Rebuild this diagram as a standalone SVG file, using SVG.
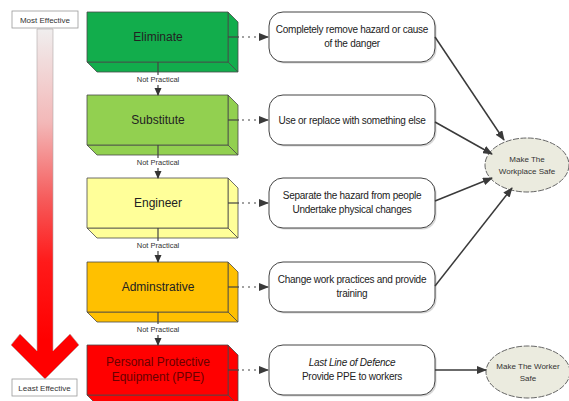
<svg xmlns="http://www.w3.org/2000/svg" width="569" height="401" viewBox="0 0 569 401">
<style>
text{font-family:"Liberation Sans",Arial,sans-serif;fill:#222}
.lbl{font-size:12px;text-anchor:middle}
.desc{font-size:10px;letter-spacing:-0.25px;text-anchor:middle}
.np{font-size:7.5px;text-anchor:middle;fill:#333}
.small{font-size:8px;text-anchor:middle;fill:#333}
.face{stroke:#4a4a4a;stroke-width:0.8;stroke-linejoin:round}
.rr{fill:#fff;stroke:#444;stroke-width:1}
.sh{fill:#bbb;opacity:0.6}
.ell{fill:#ebebdf;stroke:#555;stroke-width:0.9;stroke-dasharray:6 1.5}
.dot{stroke:#444;stroke-width:1.2;stroke-dasharray:2 4;fill:none}
.sol{stroke:#444;stroke-width:1.2;fill:none}
.arr{stroke:#3a3a3a;stroke-width:1.5;fill:none}
</style>
<defs>
<marker id="ah" markerWidth="10" markerHeight="8" refX="9" refY="4" orient="auto" markerUnits="userSpaceOnUse">
<path d="M0,0 L10,4 L0,8 Z" fill="#3a3a3a"/>
</marker>
<marker id="ahs" markerWidth="8" markerHeight="8" refX="7" refY="4" orient="auto" markerUnits="userSpaceOnUse">
<path d="M0,0.5 L8,4 L0,7.5 Z" fill="#333"/>
</marker>
<linearGradient id="grad" gradientUnits="userSpaceOnUse" x1="0" y1="29" x2="0" y2="340">
<stop offset="0" stop-color="#f0eeee"/>
<stop offset="0.3" stop-color="#f3b8b8"/>
<stop offset="0.55" stop-color="#f65a5a"/>
<stop offset="0.75" stop-color="#ff1a1a"/>
<stop offset="1" stop-color="#ff0000"/>
</linearGradient>
</defs>

<!-- effectiveness scale -->
<g id="scale">
<polygon points="37,29 37,351 20,334 11,345 45,379 79,345 70,334 53,351 53,29" fill="url(#grad)" stroke="#b0a8a8" stroke-width="0.6"/>
<g id="most-effective">
<rect x="12" y="11" width="66" height="17" fill="#fff" stroke="#999" stroke-width="0.8"/>
<text class="small" x="45" y="22.5">Most Effective</text>
</g>
<g id="least-effective">
<rect x="12" y="379" width="65" height="17" fill="#fff" stroke="#999" stroke-width="0.8"/>
<text class="small" x="44.5" y="390.5">Least Effective</text>
</g>
</g>

<!-- hierarchy boxes -->
<g id="eliminate">
<polygon class="face" points="87,62 228,62 238,72 97,72" fill="#12ad4c"/>
<polygon class="face" points="228,12 238,22 238,72 228,62" fill="#12ad4c"/>
<rect class="face" x="87" y="12" width="141" height="50" fill="#12ad4c"/>
<text class="lbl" x="158" y="41">Eliminate</text>
</g>
<g id="substitute">
<polygon class="face" points="87,145 228,145 238,155 97,155" fill="#92d050"/>
<polygon class="face" points="228,95 238,105 238,155 228,145" fill="#92d050"/>
<rect class="face" x="87" y="95" width="141" height="50" fill="#92d050"/>
<text class="lbl" x="158" y="124">Substitute</text>
</g>
<g id="engineer">
<polygon class="face" points="87,228 228,228 238,238 97,238" fill="#ffff99"/>
<polygon class="face" points="228,178 238,188 238,238 228,228" fill="#ffff99"/>
<rect class="face" x="87" y="178" width="141" height="50" fill="#ffff99"/>
<text class="lbl" x="158" y="207">Engineer</text>
</g>
<g id="administrative">
<polygon class="face" points="87,312 228,312 238,322 97,322" fill="#ffc000"/>
<polygon class="face" points="228,262 238,272 238,322 228,312" fill="#ffc000"/>
<rect class="face" x="87" y="262" width="141" height="50" fill="#ffc000"/>
<text class="lbl" x="158" y="291">Adminstrative</text>
</g>
<g id="ppe">
<polygon class="face" points="87,395 228,395 238,405 97,405" fill="#ff0000"/>
<polygon class="face" points="228,345 238,355 238,405 228,395" fill="#ff0000"/>
<rect class="face" x="87" y="345" width="141" height="50" fill="#ff0000"/>
<text class="lbl" x="158" y="366" style="fill:#6a0000">Personal Protective</text>
<text class="lbl" x="158" y="381" style="fill:#6a0000">Equipment (PPE)</text>
</g>

<!-- descriptions -->
<g id="d-eliminate">
<rect class="sh" x="270.5" y="13.5" width="166" height="50" rx="14"/>
<rect class="rr" x="269" y="12" width="166" height="50" rx="14"/>
<text class="desc" x="352" y="33">Completely remove hazard or cause</text>
<text class="desc" x="352" y="47">of the danger</text>
</g>
<g id="d-substitute">
<rect class="sh" x="270.5" y="96.5" width="166" height="50" rx="14"/>
<rect class="rr" x="269" y="95" width="166" height="50" rx="14"/>
<text class="desc" x="352" y="124">Use or replace with something else</text>
</g>
<g id="d-engineer">
<rect class="sh" x="270.5" y="179.5" width="166" height="50" rx="14"/>
<rect class="rr" x="269" y="178" width="166" height="50" rx="14"/>
<text class="desc" x="352" y="199">Separate the hazard from people</text>
<text class="desc" x="352" y="213">Undertake physical changes</text>
</g>
<g id="d-administrative">
<rect class="sh" x="270.5" y="263.5" width="166" height="50" rx="14"/>
<rect class="rr" x="269" y="262" width="166" height="50" rx="14"/>
<text class="desc" x="352" y="283">Change work practices and provide</text>
<text class="desc" x="352" y="297">training</text>
</g>
<g id="d-ppe">
<rect class="sh" x="270.5" y="346.5" width="166" height="50" rx="14"/>
<rect class="rr" x="269" y="345" width="166" height="50" rx="14"/>
<text class="desc" x="352" y="366" font-style="italic">Last Line of Defence</text>
<text class="desc" x="352" y="380">Provide PPE to workers</text>
</g>

<!-- outcomes -->
<g id="workplace-safe">
<ellipse class="ell" cx="527" cy="165" rx="42" ry="27"/>
<text class="small" x="527" y="162">Make The</text>
<text class="small" x="527" y="174">Workplace Safe</text>
</g>
<g id="worker-safe">
<ellipse class="ell" cx="528" cy="372" rx="42" ry="26"/>
<text class="small" x="528" y="369">Make The Worker</text>
<text class="small" x="528" y="381">Safe</text>
</g>

<!-- connectors -->
<g id="connectors">
<g id="np-links">
<line class="sol" x1="158" y1="62" x2="158" y2="75"/>
<text class="np" x="158" y="82">Not Practical</text>
<line class="sol" x1="158" y1="85" x2="158" y2="95" marker-end="url(#ahs)"/>
<line class="sol" x1="158" y1="145" x2="158" y2="158"/>
<text class="np" x="158" y="165">Not Practical</text>
<line class="sol" x1="158" y1="168" x2="158" y2="178" marker-end="url(#ahs)"/>
<line class="sol" x1="158" y1="228" x2="158" y2="241"/>
<text class="np" x="158" y="248">Not Practical</text>
<line class="sol" x1="158" y1="251" x2="158" y2="262" marker-end="url(#ahs)"/>
<line class="sol" x1="158" y1="312" x2="158" y2="324"/>
<text class="np" x="158" y="332">Not Practical</text>
<line class="sol" x1="158" y1="335" x2="158" y2="345" marker-end="url(#ahs)"/>
</g>
<g id="desc-links">
<line class="sol" x1="228" y1="37" x2="239" y2="37"/>
<line class="dot" x1="242" y1="37" x2="268" y2="37" marker-end="url(#ah)"/>
<line class="sol" x1="228" y1="120" x2="239" y2="120"/>
<line class="dot" x1="242" y1="120" x2="268" y2="120" marker-end="url(#ah)"/>
<line class="sol" x1="228" y1="203" x2="239" y2="203"/>
<line class="dot" x1="242" y1="203" x2="268" y2="203" marker-end="url(#ah)"/>
<line class="sol" x1="228" y1="287" x2="239" y2="287"/>
<line class="dot" x1="242" y1="287" x2="268" y2="287" marker-end="url(#ah)"/>
<line class="sol" x1="228" y1="370" x2="239" y2="370"/>
<line class="dot" x1="242" y1="370" x2="268" y2="370" marker-end="url(#ah)"/>
</g>
<g id="outcome-links">
<line class="arr" x1="435" y1="37" x2="504" y2="140" marker-end="url(#ah)"/>
<line class="arr" x1="435" y1="122" x2="492" y2="154" marker-end="url(#ah)"/>
<line class="arr" x1="435" y1="201" x2="492" y2="178" marker-end="url(#ah)"/>
<line class="arr" x1="435" y1="286" x2="512" y2="188" marker-end="url(#ah)"/>
<line class="arr" x1="435" y1="370" x2="486" y2="370" marker-end="url(#ah)"/>
</g>
</g>
</svg>
